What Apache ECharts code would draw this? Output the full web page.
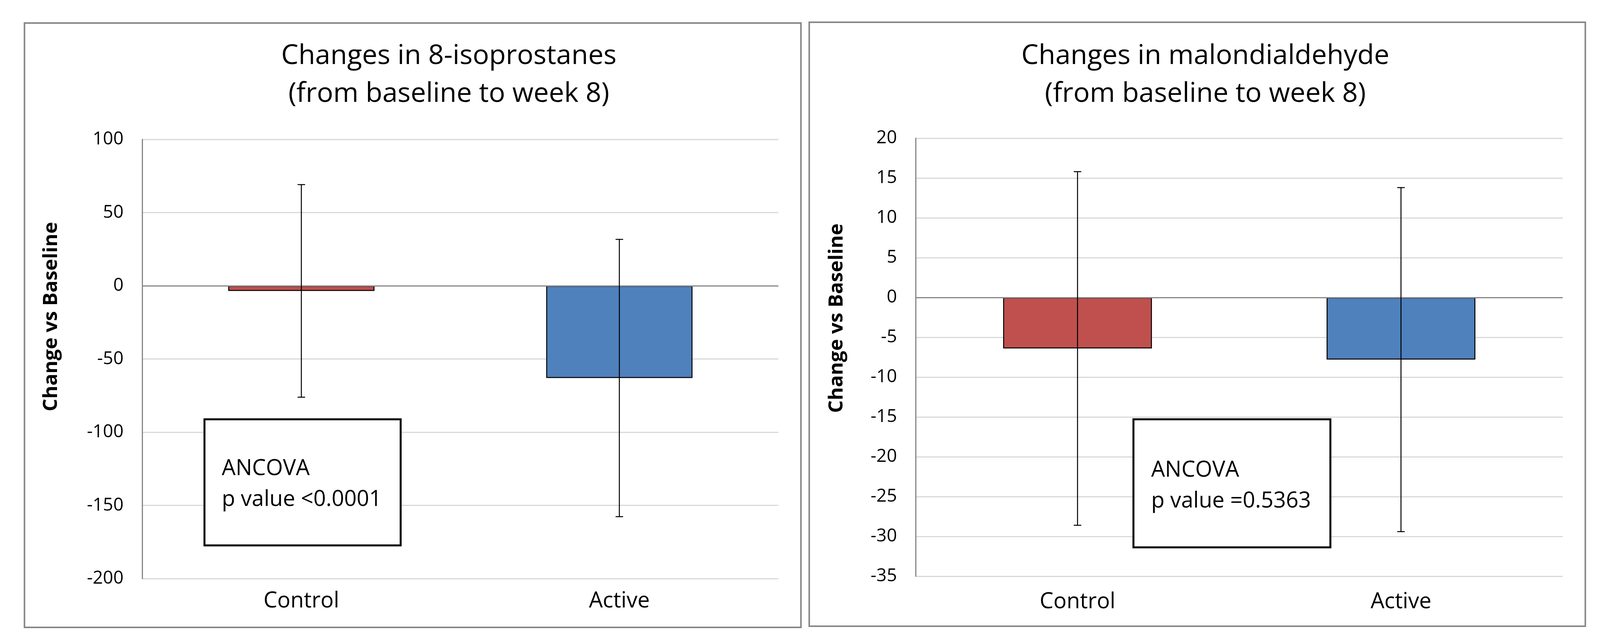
<!DOCTYPE html>
<html>
<head>
<meta charset="utf-8">
<script src="https://cdn.jsdelivr.net/npm/echarts@6/dist/echarts.min.js"></script>
<style>
html,body{margin:0;padding:0;background:#fff;overflow:hidden;}
#c{width:100vw;height:100vh;}
</style>
</head>
<body>
<div id="c"></div>
<script>
// ---- data ----
const categories = ['Control', 'Active'];
const isoMean = [-3.5, -63];
const isoErr = [72.6, 94.7];
const mdaMean = [-6.4, -7.8];
const mdaErr = [22.2, 21.6];
const isoAxisRange = [-200, 100, 50];
const mdaAxisRange = [-35, 20, 5];
const titles = ['Changes in 8-isoprostanes\n(from baseline to week 8)', 'Changes in malondialdehyde\n(from baseline to week 8)'];
const boxTexts = ['ANCOVA\np value <0.0001', 'ANCOVA\np value =0.5363'];
const yName = 'Change vs Baseline';
const barColors = ['#c0504d', '#4f81bd'];

// ---- layout (designed on a 4249 x 1647 frame, scaled to the viewport) ----
const W = window.innerWidth || 4249;
const H = window.innerHeight || 1647;
const sx = W / 4249, sy = H / 1647;
const X = v => v * sx, Y = v => v * sy;

const FONT = "'Open Sans', 'Liberation Sans', sans-serif";
const GRAY = '#878787';

function yAxisCfg(gridIndex, range) {
  return {
    type: 'value', gridIndex: gridIndex,
    min: range[0], max: range[1], interval: range[2],
    axisLine: {show: true, lineStyle: {color: GRAY, width: 3}},
    axisTick: {show: false},
    axisLabel: {fontFamily: FONT, fontSize: 46, color: '#000', margin: X(50)},
    splitLine: {show: true, lineStyle: {color: '#d9d9d9', width: 3}}
  };
}
function xAxisCfg(gridIndex, margin) {
  return {
    type: 'category', gridIndex: gridIndex, data: categories,
    axisLine: {show: false, onZero: false},
    axisTick: {show: false},
    axisLabel: {fontFamily: FONT, fontSize: 56, lineHeight: 57, color: '#000', margin: margin},
    splitLine: {show: false}
  };
}
function barSeries(idx, means) {
  return {
    type: 'bar', xAxisIndex: idx, yAxisIndex: idx, barWidth: '46%',
    data: means.map((v, i) => ({value: v, itemStyle: {color: barColors[i]}})),
    itemStyle: {borderColor: '#000', borderWidth: 2.5},
    z: 2,
    markLine: {
      silent: true, symbol: 'none', label: {show: false},
      lineStyle: {color: GRAY, width: 3, type: 'solid'},
      data: [{yAxis: 0}]
    }
  };
}
function errSeries(idx, means, errs) {
  return {
    type: 'custom', xAxisIndex: idx, yAxisIndex: idx, z: 5,
    data: means.map((m, i) => [i, m - errs[i], m + errs[i]]),
    renderItem: function (params, api) {
      const x = api.value(0);
      const lo = api.coord([x, api.value(1)]);
      const hi = api.coord([x, api.value(2)]);
      const hw = X(10);
      const st = {stroke: '#000', lineWidth: 2.5};
      return {
        type: 'group',
        children: [
          {type: 'line', shape: {x1: lo[0], y1: lo[1], x2: hi[0], y2: hi[1]}, style: st},
          {type: 'line', shape: {x1: hi[0] - hw, y1: hi[1], x2: hi[0] + hw, y2: hi[1]}, style: st},
          {type: 'line', shape: {x1: lo[0] - hw, y1: lo[1], x2: lo[0] + hw, y2: lo[1]}, style: st}
        ]
      };
    }
  };
}
function textBox(x, y, w, h, tx, ty, text) {
  return [
    {type: 'rect', z: 100, shape: {x: X(x), y: Y(y), width: X(w), height: Y(h)}, style: {fill: '#fff', stroke: '#000', lineWidth: 5}},
    {type: 'text', z: 101, x: X(tx), y: Y(ty), style: {text: text, fontFamily: FONT, fontSize: 56, lineHeight: 79, fill: '#000', verticalAlign: 'top', align: 'left'}}
  ];
}
function yLabel(cx, cy) {
  return {type: 'text', z: 50, x: X(cx), y: Y(cy), rotation: Math.PI / 2,
    style: {text: yName, fontFamily: FONT, fontWeight: 'bold', fontSize: 51, fill: '#000', align: 'center', verticalAlign: 'middle'}};
}

const titleStyle = {fontFamily: FONT, fontSize: 70, lineHeight: 97, fontWeight: 'normal', color: '#000'};

const chart = echarts.init(document.getElementById('c'), null, {renderer: 'canvas'});
chart.setOption({
  animation: false,
  backgroundColor: '#fff',
  title: [
    {text: titles[0], left: X(1192), top: Y(96), textAlign: 'center', padding: 0, textStyle: titleStyle},
    {text: titles[1], left: X(3201), top: Y(96), textAlign: 'center', padding: 0, textStyle: titleStyle}
  ],
  grid: [
    {left: X(378), right: W - X(2067), top: Y(357), bottom: H - Y(1482)},
    {left: X(2432), right: W - X(4150), top: Y(354), bottom: H - Y(1476)}
  ],
  xAxis: [xAxisCfg(0, Y(30)), xAxisCfg(1, Y(38))],
  yAxis: [yAxisCfg(0, isoAxisRange), yAxisCfg(1, mdaAxisRange)],
  series: [
    barSeries(0, isoMean), errSeries(0, isoMean, isoErr),
    barSeries(1, mdaMean), errSeries(1, mdaMean, mdaErr)
  ],
  graphic: [
    {type: 'rect', z: -10, shape: {x: X(65), y: Y(59), width: X(2062), height: Y(1548)}, style: {fill: null, stroke: GRAY, lineWidth: 4}},
    {type: 'rect', z: -10, shape: {x: X(2149), y: Y(57), width: X(2061), height: Y(1547)}, style: {fill: null, stroke: GRAY, lineWidth: 4}},
    yLabel(136, 811),
    yLabel(2222, 815)
  ].concat(textBox(543, 1074, 521, 323, 589, 1162, boxTexts[0]))
   .concat(textBox(3010, 1074, 523, 328, 3057, 1166, boxTexts[1]))
});
</script>
</body>
</html>
